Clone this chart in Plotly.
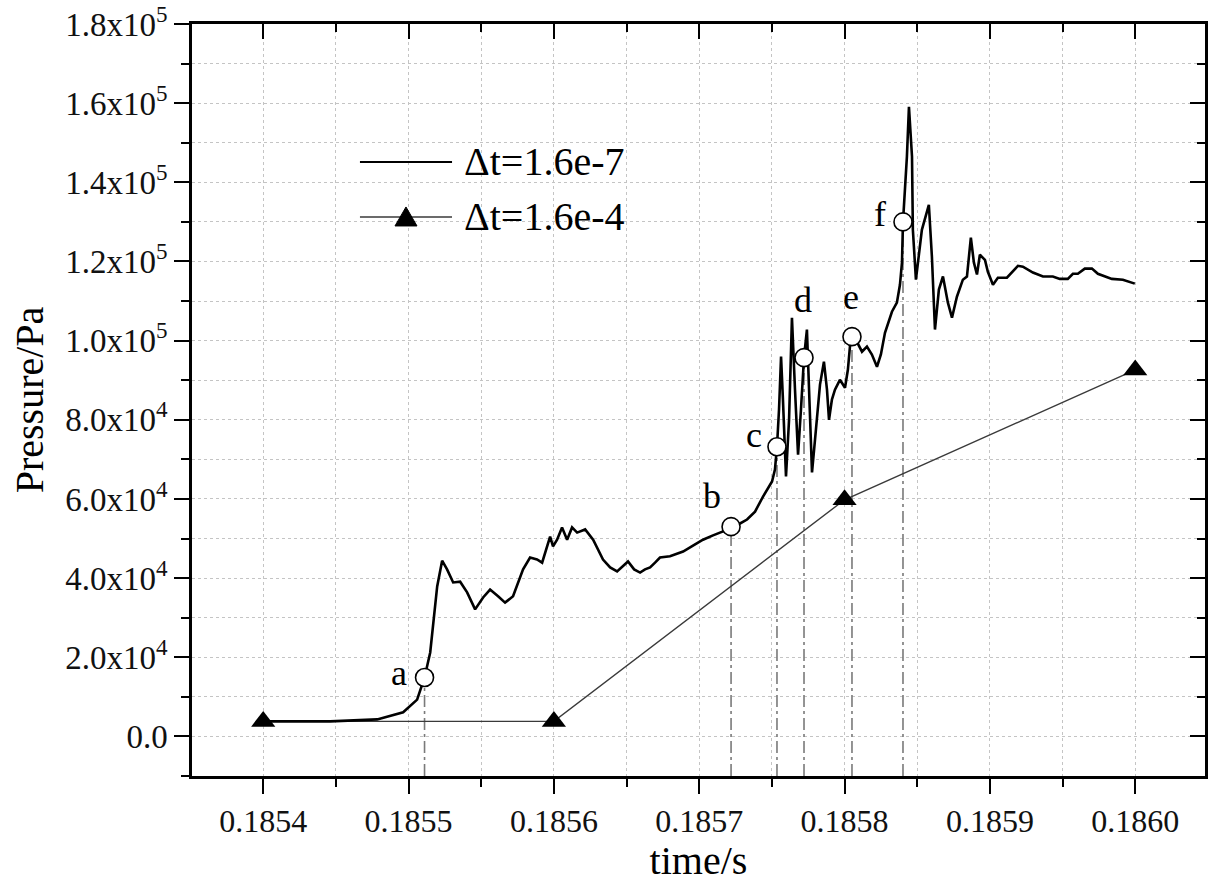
import plotly.graph_objects as go

# ---------------- data ----------------
time_fine = [
    0.1854000, 0.1854461, 0.1854784, 0.1854963, 0.1855059, 0.1855110, 0.1855149, 0.1855197, 0.1855231, 0.1855265,
    0.1855307, 0.1855355, 0.1855403, 0.1855458, 0.1855513, 0.1855561, 0.1855616, 0.1855664, 0.1855719, 0.1855788,
    0.1855836, 0.1855884, 0.1855919, 0.1855953, 0.1855974, 0.1855994, 0.1856022, 0.1856056, 0.1856091, 0.1856125,
    0.1856160, 0.1856215, 0.1856270, 0.1856338, 0.1856387, 0.1856435, 0.1856469, 0.1856510, 0.1856552, 0.1856593,
    0.1856627, 0.1856662, 0.1856696, 0.1856730, 0.1856799, 0.1856889, 0.1856957, 0.1857026, 0.1857095, 0.1857164,
    0.1857219, 0.1857281, 0.1857329, 0.1857384, 0.1857439, 0.1857501, 0.1857521, 0.1857535, 0.1857549, 0.1857563,
    0.1857576, 0.1857597, 0.1857618, 0.1857638, 0.1857659, 0.1857680, 0.1857700, 0.1857721, 0.1857741, 0.1857755,
    0.1857776, 0.1857803, 0.1857831, 0.1857858, 0.1857879, 0.1857893, 0.1857913, 0.1857934, 0.1857968, 0.1858003,
    0.1858023, 0.1858037, 0.1858051, 0.1858085, 0.1858120, 0.1858154, 0.1858188, 0.1858223, 0.1858250, 0.1858278,
    0.1858326, 0.1858360, 0.1858381, 0.1858395, 0.1858402, 0.1858429, 0.1858443, 0.1858464, 0.1858470, 0.1858491,
    0.1858532, 0.1858580, 0.1858601, 0.1858622, 0.1858649, 0.1858677, 0.1858711, 0.1858739, 0.1858773, 0.1858814,
    0.1858842, 0.1858869, 0.1858890, 0.1858911, 0.1858931, 0.1858966, 0.1858986, 0.1859021, 0.1859055, 0.1859117,
    0.1859193, 0.1859227, 0.1859296, 0.1859365, 0.1859433, 0.1859481, 0.1859536, 0.1859571, 0.1859605, 0.1859653,
    0.1859702, 0.1859743, 0.1859839, 0.1859915, 0.1859997,
]
pressure_fine = [
    3800, 3800, 4300, 6100, 9300, 14900, 21200, 37900, 44400, 42200,
    38900, 39100, 36400, 32100, 35100, 37100, 35400, 33800, 35400, 42200,
    45200, 44700, 43900, 47700, 50500, 48000, 49700, 52800, 49700, 52800,
    51500, 52300, 49700, 44700, 42700, 41700, 42900, 44200, 42200, 41400,
    42200, 42700, 43900, 45200, 45500, 46700, 48200, 49700, 50800, 51800,
    53000, 53800, 54800, 56800, 60600, 64400, 67400, 73200, 82600, 96000,
    85100, 65700, 80000, 105800, 87600, 71200, 82600, 95700, 102800, 90100,
    66700, 77500, 88900, 94700, 87600, 80000, 85100, 87600, 90100, 88100,
    92700, 98500, 101000, 99700, 97200, 98500, 96500, 93400, 96500, 102000,
    107300, 109600, 114100, 119700, 130000, 146500, 159100, 146500, 128000, 115400,
    128000, 134300, 121200, 102800, 112900, 116200, 109600, 105800, 111100, 115400,
    116200, 126000, 119700, 116700, 121700, 120400, 117400, 114100, 115900, 115900,
    118900, 118700, 117200, 116200, 116200, 115600, 115600, 116900, 116900, 118200,
    118200, 116900, 115600, 115400, 114400,
]

time_coarse = [0.1854, 0.1856, 0.1858, 0.1860]
pressure_coarse = [3800, 3800, 59800, 92600]

point_labels = ["a", "b", "c", "d", "e", "f"]
point_time = [0.1855110, 0.1857219, 0.1857535, 0.1857721, 0.1858051, 0.1858402]
point_pressure = [14900, 53000, 73200, 95700, 101000, 130000]

x_tick_values = [0.1854, 0.1855, 0.1856, 0.1857, 0.1858, 0.1859, 0.1860]
x_tick_labels = ["0.1854", "0.1855", "0.1856", "0.1857", "0.1858", "0.1859", "0.1860"]
y_tick_values = [0, 20000, 40000, 60000, 80000, 100000, 120000, 140000, 160000, 180000]
y_tick_labels = ["0.0", "2.0x10<sup>4</sup>", "4.0x10<sup>4</sup>", "6.0x10<sup>4</sup>",
                 "8.0x10<sup>4</sup>", "1.0x10<sup>5</sup>", "1.2x10<sup>5</sup>",
                 "1.4x10<sup>5</sup>", "1.6x10<sup>5</sup>", "1.8x10<sup>5</sup>"]

series_names = ["\u0394t=1.6e-7", "\u0394t=1.6e-4"]

X_RANGE = [0.185351, 0.186048]
Y_RANGE = [-10000, 180000]

# ---------------- styling ----------------
FONT = "Liberation Serif, Times New Roman, Tinos, DejaVu Serif, serif"
label_shift = {"a": (-26, 4), "b": (-19, 31), "c": (-23, 12), "d": (-1, 58), "e": (-1, 40), "f": (-23, 8)}

fig = go.Figure()

# dash-dot drop lines from each marked point to the bottom axis
drop_x, drop_y = [], []
for t, p in zip(point_time, point_pressure):
    drop_x += [t, t, None]
    drop_y += [Y_RANGE[0], p, None]
fig.add_trace(go.Scatter(x=drop_x, y=drop_y, mode="lines",
                         line=dict(color="#7a7a7a", width=1.6, dash="12px,4px,3px,4px"),
                         hoverinfo="skip", showlegend=False))

# coarse time-step line
fig.add_trace(go.Scatter(x=time_coarse, y=pressure_coarse, mode="lines",
                         line=dict(color="#3a3a3a", width=1.4), name=series_names[1],
                         showlegend=False))
# fine time-step curve
fig.add_trace(go.Scatter(x=time_fine, y=pressure_fine, mode="lines",
                         line=dict(color="black", width=2.6), name=series_names[0],
                         showlegend=False))
# coarse triangles
fig.add_trace(go.Scatter(x=time_coarse, y=pressure_coarse, mode="markers",
                         marker=dict(symbol="triangle-up", size=21, color="black"),
                         hoverinfo="skip", showlegend=False))
# labelled points
fig.add_trace(go.Scatter(x=point_time, y=point_pressure, mode="markers",
                         marker=dict(symbol="circle", size=18, color="white",
                                     line=dict(color="black", width=1.6)),
                         hoverinfo="skip", showlegend=False))
# empty trace to host the mirrored top/right axes
fig.add_trace(go.Scatter(x=[], y=[], xaxis="x2", yaxis="y2", showlegend=False, hoverinfo="skip"))

for lab, t, p in zip(point_labels, point_time, point_pressure):
    dx, dy = label_shift[lab]
    fig.add_annotation(x=t, y=p, text=lab, showarrow=False, xshift=dx, yshift=dy,
                       font=dict(family=FONT, size=36, color="black"))

# manual legend
leg_x0, leg_x1, leg_tx = 0.1658, 0.2567, 0.2665
leg_rows = [0.8165, 0.7434]
fig.add_shape(type="line", xref="paper", yref="paper", x0=leg_x0, x1=leg_x1,
              y0=leg_rows[0], y1=leg_rows[0], line=dict(color="black", width=2.2))
fig.add_shape(type="line", xref="paper", yref="paper", x0=leg_x0, x1=leg_x1,
              y0=leg_rows[1], y1=leg_rows[1], line=dict(color="#3a3a3a", width=1.4))
fig.add_shape(type="path", xref="paper", yref="paper", xsizemode="pixel", ysizemode="pixel",
              xanchor=(leg_x0 + leg_x1) / 2, yanchor=leg_rows[1],
              path="M -11,-9 L 11,-9 L 0,10 Z", fillcolor="black", line=dict(color="black", width=1))
for name, yy in zip(series_names, leg_rows):
    fig.add_annotation(x=leg_tx, y=yy, xref="paper", yref="paper", text=name, showarrow=False,
                       xanchor="left", yanchor="middle", font=dict(family=FONT, size=40, color="black"))

axis_common = dict(showline=True, linecolor="black", linewidth=2.5, zeroline=False,
                   showgrid=False, tickcolor="black", tickwidth=2, automargin=False)
grid_minor = dict(showgrid=True, gridcolor="#c4c4c4", griddash="dot", gridwidth=1)

fig.update_layout(
    width=1208, height=883,
    margin=dict(l=192, r=3, t=24, b=107),
    paper_bgcolor="white", plot_bgcolor="white",
    showlegend=False,
    font=dict(family=FONT, color="black"),
    xaxis=dict(**axis_common, range=X_RANGE, tickmode="array", tickvals=x_tick_values,
               ticktext=x_tick_labels, ticks="outside", ticklen=15,
               tickfont=dict(family=FONT, size=32, color="#111"),
               title=dict(text="time/s", font=dict(family=FONT, size=40), standoff=4),
               minor=dict(ticks="outside", ticklen=8, tickwidth=2, tickcolor="black",
                          tickmode="linear", tick0=0.18535, dtick=0.00005, **grid_minor)),
    yaxis=dict(**axis_common, range=Y_RANGE, tickmode="array", tickvals=y_tick_values,
               ticktext=y_tick_labels, ticks="outside", ticklen=15, ticklabeloverflow="allow",
               tickfont=dict(family=FONT, size=33, color="#111"),
               title=dict(text="Pressure/Pa", font=dict(family=FONT, size=40), standoff=10),
               minor=dict(ticks="outside", ticklen=8, tickwidth=2, tickcolor="black",
                          tickmode="linear", tick0=-10000, dtick=10000, **grid_minor)),
    xaxis2=dict(**axis_common, overlaying="x", side="top", anchor="y2", range=X_RANGE,
                tickmode="array", tickvals=x_tick_values, ticks="inside", ticklen=15,
                showticklabels=False,
                minor=dict(ticks="inside", ticklen=8, tickwidth=2, tickcolor="black",
                           tickmode="linear", tick0=0.18535, dtick=0.00005)),
    yaxis2=dict(**axis_common, overlaying="y", side="right", anchor="x2", range=Y_RANGE,
                tickmode="array", tickvals=y_tick_values, ticks="inside", ticklen=15,
                showticklabels=False,
                minor=dict(ticks="inside", ticklen=8, tickwidth=2, tickcolor="black",
                           tickmode="linear", tick0=-10000, dtick=10000)),
)

# remove the default page margin so the figure sits at the window origin
fig.write_html("out.html", config={"displayModeBar": False},
               post_script="document.body.style.margin='0';document.body.style.overflow='hidden';")
